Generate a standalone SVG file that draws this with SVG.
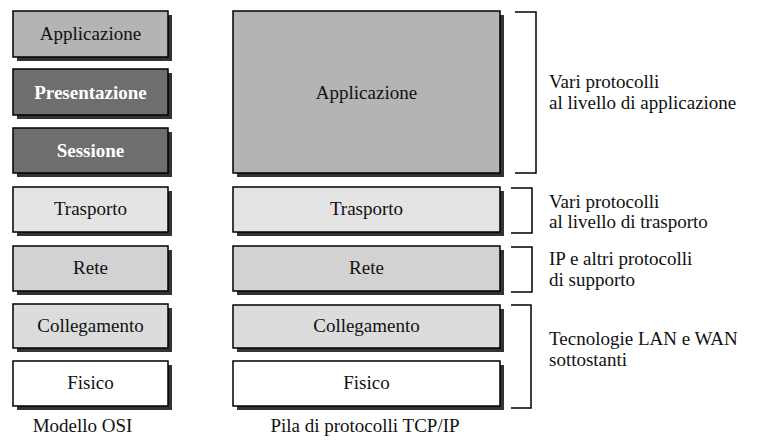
<svg xmlns="http://www.w3.org/2000/svg" width="774" height="440" viewBox="0 0 774 440">
  <style>
    .box { stroke: #000; stroke-width: 1.5; }
    .shadow { fill: #333; }
    .lbl { font-family: "Liberation Serif", "Times New Roman", serif; font-size: 19px; fill: #111; text-anchor: middle; }
    .lbl-b { font-family: "Liberation Serif", "Times New Roman", serif; font-size: 19px; font-weight: bold; fill: #fff; text-anchor: middle; }
    .note { font-family: "Liberation Serif", "Times New Roman", serif; font-size: 19px; fill: #111; }
    .brk { fill: none; stroke: #000; stroke-width: 1.5; }
    .app { fill: #b4b4b4; }
    .dark { fill: #6e6e6e; }
    .tra { fill: #e4e4e4; }
    .net { fill: #d2d2d2; }
    .lnk { fill: #dcdcdc; }
    .phy { fill: #fff; }
  </style>

  <!-- OSI model column -->
  <g id="osi-applicazione">
    <rect class="shadow" x="17" y="15" width="155" height="46"/>
    <rect class="box app" x="13" y="11" width="155" height="46"/>
    <text class="lbl" x="90.5" y="40">Applicazione</text>
  </g>
  <g id="osi-presentazione">
    <rect class="shadow" x="17" y="73" width="155" height="46"/>
    <rect class="box dark" x="13" y="69" width="155" height="46"/>
    <text class="lbl-b" x="90.5" y="99">Presentazione</text>
  </g>
  <g id="osi-sessione">
    <rect class="shadow" x="17" y="132" width="155" height="45"/>
    <rect class="box dark" x="13" y="128" width="155" height="45"/>
    <text class="lbl-b" x="90.5" y="157">Sessione</text>
  </g>
  <g id="osi-trasporto">
    <rect class="shadow" x="17" y="191" width="155" height="45"/>
    <rect class="box tra" x="13" y="187" width="155" height="45"/>
    <text class="lbl" x="90.5" y="215">Trasporto</text>
  </g>
  <g id="osi-rete">
    <rect class="shadow" x="17" y="250" width="155" height="45"/>
    <rect class="box net" x="13" y="246" width="155" height="45"/>
    <text class="lbl" x="90.5" y="274">Rete</text>
  </g>
  <g id="osi-collegamento">
    <rect class="shadow" x="17" y="308" width="155" height="44"/>
    <rect class="box lnk" x="13" y="304" width="155" height="44"/>
    <text class="lbl" x="90.5" y="332">Collegamento</text>
  </g>
  <g id="osi-fisico">
    <rect class="shadow" x="17" y="365" width="155" height="45"/>
    <rect class="box phy" x="13" y="361" width="155" height="45"/>
    <text class="lbl" x="90.5" y="389">Fisico</text>
  </g>
  <text class="lbl" x="82.5" y="432">Modello OSI</text>

  <!-- TCP/IP stack column -->
  <g id="tcp-applicazione">
    <rect class="shadow" x="237" y="15" width="267" height="162"/>
    <rect class="box app" x="233" y="11" width="267" height="162"/>
    <text class="lbl" x="366.5" y="99">Applicazione</text>
  </g>
  <g id="tcp-trasporto">
    <rect class="shadow" x="237" y="191" width="267" height="45"/>
    <rect class="box tra" x="233" y="187" width="267" height="45"/>
    <text class="lbl" x="366.5" y="215">Trasporto</text>
  </g>
  <g id="tcp-rete">
    <rect class="shadow" x="237" y="250" width="267" height="45"/>
    <rect class="box net" x="233" y="246" width="267" height="45"/>
    <text class="lbl" x="366.5" y="274">Rete</text>
  </g>
  <g id="tcp-collegamento">
    <rect class="shadow" x="237" y="309" width="267" height="43"/>
    <rect class="box lnk" x="233" y="305" width="267" height="43"/>
    <text class="lbl" x="366.5" y="332">Collegamento</text>
  </g>
  <g id="tcp-fisico">
    <rect class="shadow" x="237" y="365" width="267" height="45"/>
    <rect class="box phy" x="233" y="361" width="267" height="45"/>
    <text class="lbl" x="366.5" y="389">Fisico</text>
  </g>
  <text class="lbl" x="365" y="432">Pila di protocolli TCP/IP</text>

  <!-- Brackets grouping the TCP/IP layers -->
  <g id="connectors">
    <path class="brk" d="M515 12 H536 V173 H515"/>
    <path class="brk" d="M511 188 H532 V233 H511"/>
    <path class="brk" d="M511 247 H532 V292 H511"/>
    <path class="brk" d="M511 305 H531 V408 H511"/>
  </g>

  <!-- Notes -->
  <g id="note-applicazione">
    <text class="note" x="549" y="88">Vari protocolli</text>
    <text class="note" x="549" y="109">al livello di applicazione</text>
  </g>
  <g id="note-trasporto">
    <text class="note" x="549" y="208">Vari protocolli</text>
    <text class="note" x="549" y="228">al livello di trasporto</text>
  </g>
  <g id="note-rete">
    <text class="note" x="549" y="265">IP e altri protocolli</text>
    <text class="note" x="549" y="286">di supporto</text>
  </g>
  <g id="note-collegamento">
    <text class="note" x="549" y="345">Tecnologie LAN e WAN</text>
    <text class="note" x="549" y="366">sottostanti</text>
  </g>
</svg>
